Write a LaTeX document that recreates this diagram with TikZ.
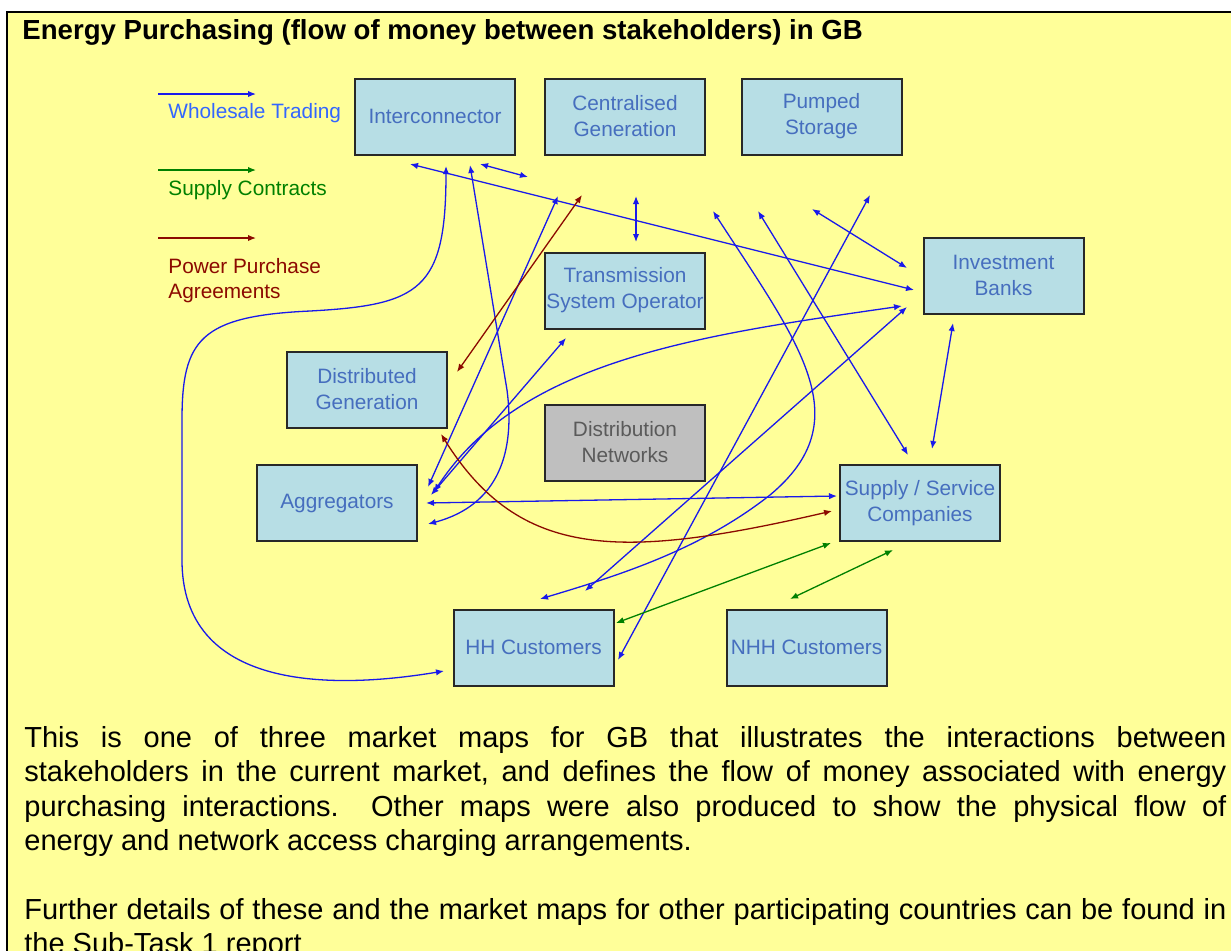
\documentclass[tikz,border=0pt]{standalone}
\usepackage{fontspec}
\setmainfont{Liberation Sans}
\usetikzlibrary{arrows.meta, calc}
\definecolor{pagebg}{RGB}{255,255,153}
\definecolor{boxfill}{RGB}{183,222,229}
\definecolor{boxtext}{RGB}{70,110,190}
\definecolor{boxline}{RGB}{40,40,40}
\definecolor{dnfill}{RGB}{191,191,191}
\definecolor{dntext}{RGB}{90,90,90}
\definecolor{wtblue}{RGB}{25,25,235}
\definecolor{wtlabel}{RGB}{51,102,255}
\definecolor{scgreen}{RGB}{0,128,0}
\definecolor{ppared}{RGB}{140,10,0}
\tikzset{
    party/.style={
        rectangle, minimum width=80pt, minimum height=38pt, inner sep=0pt,
        align=center, draw=boxline, line width=1pt, fill=boxfill,
        text=boxtext, font=\fontsize{10.4}{13}\selectfont
    },
    network/.style={
        party, fill=dnfill, text=dntext
    },
    keytext/.style={
        inner sep=0pt, align=left, font=\fontsize{10.4}{12.5}\selectfont
    },
    trade/.style={
        line width=0.65pt, draw=wtblue,
        {Latex[length=4pt,width=3.2pt]}-{Latex[length=4pt,width=3.2pt]}
    },
    contract/.style={trade, draw=scgreen},
    ppa/.style={trade, draw=ppared},
    oneway/.style={-{Latex[length=4pt,width=3.2pt]}}
}
\frenchspacing

\begin{document}
\begin{tikzpicture}[x=0.5pt, y=-0.5pt]
    \useasboundingbox (0,0) rectangle (1231,950);
    \clip (0,0) rectangle (1231,950);
    \fill[white] (0,0) rectangle (1231,950);
    \draw[line width=1.2pt, fill=pagebg] (7,12) rectangle (1260,980);

    \node[anchor=base west, inner sep=0pt, font=\fontsize{13.8}{16}\selectfont\bfseries] (title) at (22,39)
        {Energy Purchasing (flow of money between stakeholders) in GB};

    % key
    \node[keytext, anchor=base west, text=wtlabel] (kwt) at (168,118) {Wholesale Trading};
    \node[keytext, anchor=base west, text=scgreen] (ksc) at (168,195) {Supply Contracts};
    \node[keytext, anchor=north west, text=ppared] (kppa) at (168,258) {Power Purchase\\Agreements};
    \draw[trade, oneway] ([shift={(-10,-24)}]kwt.base west) -- ([shift={(88,-24)}]kwt.base west);
    \draw[contract, oneway] ([shift={(-10,-25)}]ksc.base west) -- ([shift={(88,-25)}]ksc.base west);
    \draw[ppa, oneway] ([shift={(-10,-20)}]kppa.north west) -- ([shift={(88,-20)}]kppa.north west);

    % stakeholders
    \node[party] (ic) at (435,116.5) {Interconnector};
    \node[party] (cg) at (625,116.5) {Centralised\\Generation};
    \node[party] (ps) at (821.5,116.5) {Pumped\\Storage};
    \node[party] (tso) at (625,290.5) {Transmission\\System Operator};
    \node[party] (ib) at (1003.5,275.5) {Investment\\Banks};
    \node[party] (dg) at (367,389.5) {Distributed\\Generation};
    \node[party] (agg) at (337,503) {Aggregators};
    \node[network] (dn) at (625,442.5) {Distribution\\Networks};
    \node[party] (ssc) at (920,503) {Supply / Service\\Companies};
    \node[party] (hh) at (533.5,647.5) {HH Customers};
    \node[party] (nhh) at (806.5,647.5) {NHH Customers};

    % wholesale trading
    \draw[trade] ([shift={(-25,8.5)}]ic.south) -- ([shift={(-8.5,14.5)}]ib.west);
    \draw[trade] ([shift={(45,8.5)}]ic.south) -- ([shift={(93,21.5)}]ic.south);
    \draw[trade] ([shift={(11,10.5)}]ic.south) .. controls (446,290) and (420,305) .. (310,311)
        .. controls (200,316) and (182,340) .. (182,420) -- (182,560)
        .. controls (182,690) and (330,690) .. ([shift={(-8.5,23.5)}]hh.west);
    \draw[trade] ([shift={(35,9.5)}]ic.south) -- (507,390)
        .. controls (515,450) and (500,505) .. ([shift={(10,21)}]agg.east);
    \draw[trade] ([shift={(-67,40.5)}]cg.south) -- ([shift={(10,-16)}]agg.east);
    \draw[trade] ([shift={(11,40.5)}]cg.south) -- ([shift={(11,-9.5)}]tso.north);
    \draw[trade] ([shift={(-59,8.5)}]tso.south) -- ([shift={(13,-8)}]agg.east);
    \draw[trade] ([shift={(-20.5,30.5)}]ib.west) .. controls (700,335) and (520,360) .. ([shift={(16,-11)}]agg.east);
    \draw[trade] ([shift={(8,0)}]agg.east) -- ([shift={(-2,-7)}]ssc.west);
    \draw[trade] ([shift={(88,55.5)}]cg.south) .. controls (800,345) and (860,420) .. (770,495)
        .. controls (700,550) and (620,575) .. ([shift={(6.5,-9.5)}]hh.north);
    \draw[trade] ([shift={(-63.5,55.5)}]ps.south) -- ([shift={(-12,-9)}]ssc.north);
    \draw[trade] ([shift={(-15.5,31.5)}]ib.west) -- ([shift={(51.5,-17.5)}]hh.north);
    \draw[trade] ([shift={(48.5,39.5)}]ps.south) -- ([shift={(3.5,12.5)}]hh.east);
    \draw[trade] ([shift={(-9.5,53.5)}]ps.south) -- ([shift={(-15.5,-7.5)}]ib.west);
    \draw[trade] ([shift={(-50.5,8.5)}]ib.south) -- ([shift={(12,-15)}]ssc.north);

    % supply contracts
    \draw[contract] ([shift={(-8,1)}]ssc.south west) -- ([shift={(1.5,14.5)}]hh.north east);
    \draw[contract] ([shift={(-27,8)}]ssc.south) -- ([shift={(-16.5,-9.5)}]nhh.north);

    % power purchase agreements
    \draw[ppa] ([shift={(-43,39.5)}]cg.south) -- ([shift={(9,-17.5)}]dg.east);
    \draw[ppa] ([shift={(-7,5.5)}]dg.south east) .. controls (520,560) and (620,560) .. ([shift={(-7,8)}]ssc.west);

    \node[anchor=north west, inner sep=0pt, text width=601pt, align=justify,
        font=\fontsize{14.5}{17.2}\selectfont] (notes) at (24,726)
        {This is one of three market maps for GB that illustrates the interactions between\linebreak
        stakeholders in the current market, and defines the flow of money associated with energy\linebreak
        purchasing interactions.\ \ Other maps were also produced to show the physical flow of\linebreak
        energy and network access charging arrangements.\par\vspace{17.2pt}
        Further details of these and the market maps for other participating countries can be found in\linebreak
        the Sub-Task 1 report};
\end{tikzpicture}
\end{document}
